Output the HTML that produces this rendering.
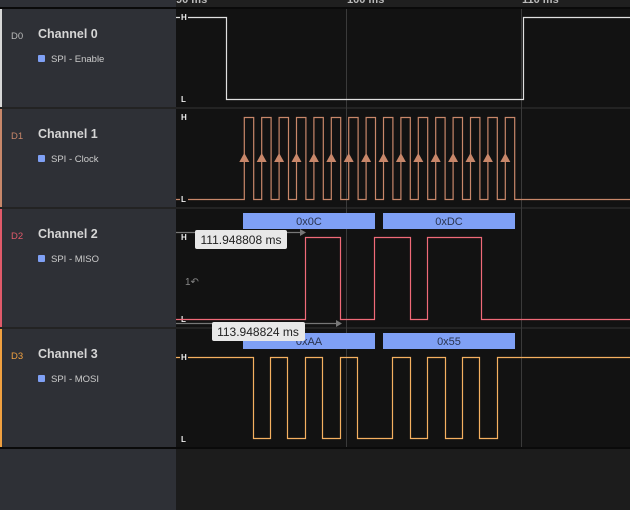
<!DOCTYPE html>
<html><head><meta charset="utf-8"><style>
html,body{margin:0;padding:0;background:#2e3036;width:630px;height:510px;overflow:hidden}
svg{display:block;font-family:"Liberation Sans",sans-serif}
</style></head><body>
<svg width="630" height="510" viewBox="0 0 630 510">
<rect x="0" y="0" width="630" height="510" fill="#2e3036"/>
<rect x="176" y="0" width="454" height="510" fill="#1c1c1c"/>
<!-- header -->
<rect x="176" y="0" width="454" height="8" fill="#1f1f1f"/>
<text x="176" y="3" fill="#bbb" font-size="11" font-weight="bold">90 ms</text>
<text x="347" y="3" fill="#bbb" font-size="11" font-weight="bold">100 ms</text>
<text x="522" y="3" fill="#bbb" font-size="11" font-weight="bold">110 ms</text>
<rect x="0" y="7" width="630" height="2" fill="#0a0a0a"/>
<!-- plot rows -->
<rect x="176" y="9" width="454" height="98" fill="#121212"/>
<rect x="176" y="109" width="454" height="98" fill="#121212"/>
<rect x="176" y="209" width="454" height="118" fill="#121212"/>
<rect x="176" y="329" width="454" height="118" fill="#121212"/>
<rect x="0" y="107" width="630" height="2" fill="#232323"/>
<rect x="0" y="207" width="630" height="2" fill="#232323"/>
<rect x="0" y="327" width="630" height="2" fill="#232323"/>
<rect x="0" y="447" width="630" height="2" fill="#0a0a0a"/>
<!-- grid -->
<line x1="346.5" y1="9" x2="346.5" y2="447" stroke="#3a3a3a"/>
<line x1="521.5" y1="9" x2="521.5" y2="447" stroke="#3a3a3a"/>
<!-- left borders -->
<rect x="0" y="9" width="2" height="98" fill="#d8d8d8"/>
<rect x="0" y="109" width="2" height="98" fill="#c8876a"/>
<rect x="0" y="209" width="2" height="118" fill="#e05a6a"/>
<rect x="0" y="329" width="2" height="118" fill="#f0a040"/>
<!-- labels -->
<g font-size="12.5" font-weight="bold" fill="#d6d6d6">
<text x="38" y="38">Channel 0</text>
<text x="38" y="138">Channel 1</text>
<text x="38" y="238">Channel 2</text>
<text x="38" y="358">Channel 3</text>
</g>
<g font-size="9.5">
<text x="11" y="39" fill="#bbb">D0</text>
<text x="11" y="139" fill="#c8876a">D1</text>
<text x="11" y="239" fill="#e05a6a">D2</text>
<text x="11" y="359" fill="#f0a040">D3</text>
</g>
<g fill="#7fa0f5"><rect x="38" y="55" width="7" height="7" rx="1"/><rect x="38" y="155" width="7" height="7" rx="1"/><rect x="38" y="255" width="7" height="7" rx="1"/><rect x="38" y="375" width="7" height="7" rx="1"/></g>
<g font-size="9.5" fill="#ccc">
<text x="51" y="62">SPI - Enable</text>
<text x="51" y="162">SPI - Clock</text>
<text x="51" y="262">SPI - MISO</text>
<text x="51" y="382">SPI - MOSI</text>
</g>
<!-- H/L -->
<g font-size="8" font-weight="bold" fill="#eee">
<text x="181" y="20">H</text><text x="181" y="102">L</text>
<text x="181" y="120">H</text><text x="181" y="202">L</text>
<text x="181" y="240">H</text><text x="181" y="322">L</text>
<text x="181" y="360">H</text><text x="181" y="442">L</text>
</g>
<!-- ch0 -->
<path d="M176,17.5 H180 M188,17.5 H226.5 V99.5 H523.5 V17.5 H630" fill="none" stroke="#e0e0e0" stroke-width="1.2"/>
<!-- ch1 clock -->
<path d="M176,199.5 H180 M188,199.5 H244.3 V117.5 H253.7 V199.5 H261.7 V117.5 H271.1 V199.5 H279.1 V117.5 H288.5 V199.5 H296.5 V117.5 H305.9 V199.5 H313.9 V117.5 H323.3 V199.5 H331.3 V117.5 H340.7 V199.5 H348.7 V117.5 H358.1 V199.5 H366.1 V117.5 H375.5 V199.5 H383.5 V117.5 H392.9 V199.5 H400.9 V117.5 H410.3 V199.5 H418.3 V117.5 H427.7 V199.5 H435.7 V117.5 H445.1 V199.5 H453.1 V117.5 H462.5 V199.5 H470.5 V117.5 H479.9 V199.5 H487.9 V117.5 H497.3 V199.5 H505.3 V117.5 H514.7 V199.5 H630" fill="none" stroke="#c8876a" stroke-width="1.2"/>
<g fill="#c8876a">
<path d="M239.3,162 L244.3,153 L249.3,162Z"/><path d="M256.7,162 L261.7,153 L266.7,162Z"/><path d="M274.1,162 L279.1,153 L284.1,162Z"/><path d="M291.5,162 L296.5,153 L301.5,162Z"/><path d="M308.9,162 L313.9,153 L318.9,162Z"/><path d="M326.3,162 L331.3,153 L336.3,162Z"/><path d="M343.7,162 L348.7,153 L353.7,162Z"/><path d="M361.1,162 L366.1,153 L371.1,162Z"/><path d="M378.5,162 L383.5,153 L388.5,162Z"/><path d="M395.9,162 L400.9,153 L405.9,162Z"/><path d="M413.3,162 L418.3,153 L423.3,162Z"/><path d="M430.7,162 L435.7,153 L440.7,162Z"/><path d="M448.1,162 L453.1,153 L458.1,162Z"/><path d="M465.5,162 L470.5,153 L475.5,162Z"/><path d="M482.9,162 L487.9,153 L492.9,162Z"/><path d="M500.3,162 L505.3,153 L510.3,162Z"/>
</g>
<!-- ch2 -->
<g fill="#7fa0f5"><rect x="243" y="213" width="132" height="16"/><rect x="383" y="213" width="132" height="16"/></g>
<g font-size="11" fill="#2a3450" text-anchor="middle"><text x="309" y="225">0x0C</text><text x="449" y="225">0xDC</text></g>
<path d="M176,319.5 H305.5 V237.5 H340.5 V319.5 H374.5 V237.5 H410.5 V319.5 H427.5 V237.5 H481.5 V319.5 H630" fill="none" stroke="#f06a78" stroke-width="1.2"/>
<text x="185" y="285" font-size="10" fill="#888">1↶</text>
<!-- ch3 -->
<g fill="#7fa0f5"><rect x="243" y="333" width="132" height="16"/><rect x="383" y="333" width="132" height="16"/></g>
<g font-size="11" fill="#2a3450" text-anchor="middle"><text x="309" y="345">0xAA</text><text x="449" y="345">0x55</text></g>
<path d="M176,357.5 H180 M188,357.5 H253.5 V438.5 H270.5 V357.5 H287.5 V438.5 H305.5 V357.5 H322.5 V438.5 H340.5 V357.5 H357.5 V438.5 H392.5 V357.5 H410.5 V438.5 H427.5 V357.5 H445.5 V438.5 H462.5 V357.5 H479.5 V438.5 H497.5 V357.5 H630" fill="none" stroke="#f5b060" stroke-width="1.2"/>
<!-- measurements -->
<line x1="176" y1="232.5" x2="302" y2="232.5" stroke="#777" stroke-width="1.2"/>
<path d="M300,229 L306,232.5 L300,236Z" fill="#777"/>
<rect x="195" y="230" width="92" height="19" rx="2" fill="#e8e8e8"/>
<text x="241" y="244" font-size="12" fill="#222" text-anchor="middle">111.948808 ms</text>
<line x1="176" y1="323.5" x2="338" y2="323.5" stroke="#777" stroke-width="1.2"/>
<path d="M336,320 L342,323.5 L336,327Z" fill="#777"/>
<rect x="212" y="322" width="93" height="19" rx="2" fill="#e8e8e8"/>
<text x="258" y="336" font-size="12" fill="#222" text-anchor="middle">113.948824 ms</text>
</svg>
</body></html>
